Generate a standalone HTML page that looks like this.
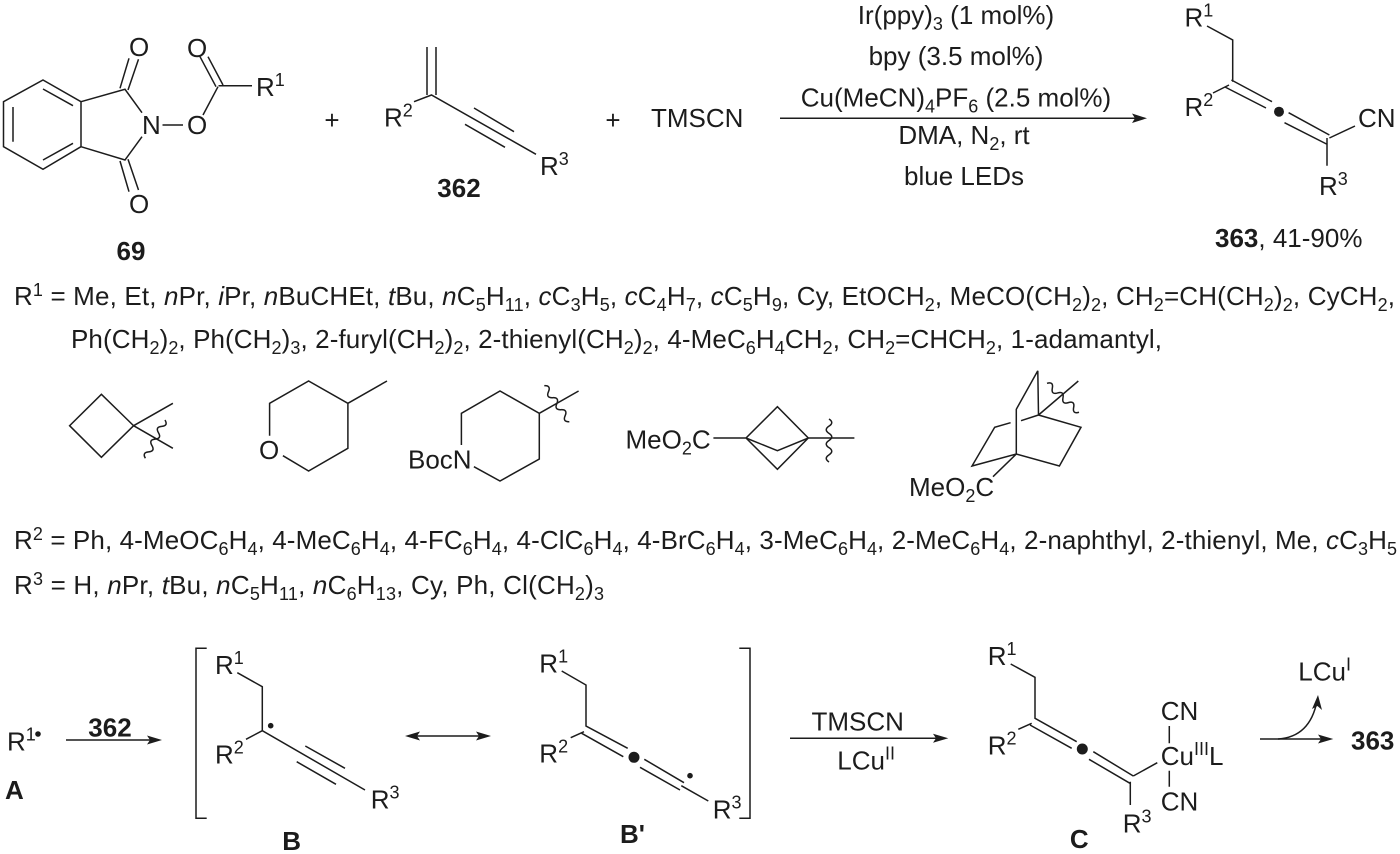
<!DOCTYPE html>
<html><head><meta charset="utf-8">
<style>
html,body{margin:0;padding:0;background:#fff;width:1400px;height:854px;overflow:hidden}
svg{display:block}
text{font-family:"Liberation Sans",sans-serif;font-size:26px;fill:#1c1c1c}
.t{font-size:26px}
.s{font-size:18px}
.b{font-weight:bold}
.i{font-style:italic}
.m{text-anchor:middle}
path,line{fill:none;stroke:#1c1c1c;stroke-width:1.5}
.h{fill:#1c1c1c;stroke:none}
</style></head><body>
<svg xmlns="http://www.w3.org/2000/svg" width="1400" height="854" viewBox="0 0 1400 854">
<!-- 69 -->
<path d="M43 80L81 101.700L81 146.700L43 169.300L3.500 146.700L3.500 101.700ZM43 89L73 105.700M73 143.300L43 160M13 107L13 141.700M81 101.700L125 89.300L142 112.700M81 146.700L125 160L142 136.700M120 88.300L129 58.300M128 90L138.500 59.300M120 161L129 191.700M128 159.300L138.500 190M162.500 125H183M203 115L218 86.700M200 56.700L216 86.700M208 56.700L223 85M218.500 85.700H252"/>
<text x="129" y="56">O</text><text x="129" y="213">O</text><text x="142" y="134">N</text><text x="187" y="134">O</text><text x="187" y="57">O</text>
<text x="256" y="96">R<tspan class="s" dy="-10">1</tspan></text>
<text x="332" y="129" class="m">+</text>
<!-- 362 -->
<path d="M427 47V95M436 47V95M414 101.700L431.500 95L536 154.300M474 108L514 131.700M465 124.300L505 147.300"/>
<text x="384" y="126.700">R<tspan class="s" dy="-10">2</tspan></text>
<text x="540" y="175">R<tspan class="s" dy="-10">3</tspan></text>
<text x="459" y="197" class="b m">362</text><text x="131" y="260" class="b m">69</text>
<text x="613" y="129" class="m">+</text><text x="651" y="127">TMSCN</text>
<!-- conditions -->
<line x1="780" y1="118.300" x2="1140" y2="118.300"/><path class="h" d="M1147 118.300L1132 113.500L1135 118.300L1132 123Z"/>
<text x="956" y="24" class="m t">Ir(ppy)<tspan class="s" dy="6">3</tspan><tspan dy="-6"> (1 mol%)</tspan></text>
<text x="956" y="65" class="m t">bpy (3.5 mol%)</text>
<text x="956" y="106.700" class="m t">Cu(MeCN)<tspan class="s" dy="6">4</tspan><tspan dy="-6">PF</tspan><tspan class="s" dy="6">6</tspan><tspan dy="-6"> (2.5 mol%)</tspan></text>
<text x="964" y="144" class="m t">DMA, N<tspan class="s" dy="6">2</tspan><tspan dy="-6">, rt</tspan></text>
<text x="964" y="185" class="m t">blue LEDs</text>
<!-- 363 -->
<path d="M1207 26L1232.700 40V81.700M1213 93L1229 85M1231.400 80L1272 101.700M1225 87L1266 108M1288.600 112.700L1329.400 135M1284.500 122.700L1326.500 144M1329.400 138L1355 126M1327 138V165.700"/>
<circle class="h" cx="1279" cy="111.700" r="5"/>
<text x="1184.500" y="26.700">R<tspan class="s" dy="-10">1</tspan></text>
<text x="1184.500" y="116">R<tspan class="s" dy="-10">2</tspan></text>
<text x="1358" y="127">CN</text>
<text x="1319" y="195">R<tspan class="s" dy="-10">3</tspan></text>
<text x="1215" y="247"><tspan class="b">363</tspan>, 41-90%</text>
<!-- R lines -->
<text class="t" x="14" y="305" textLength="1381">R<tspan class="s" dy="-9">1</tspan><tspan dy="9"> = Me, Et, </tspan><tspan class="i">n</tspan>Pr, <tspan class="i">i</tspan>Pr, <tspan class="i">n</tspan>BuCHEt, <tspan class="i">t</tspan>Bu, <tspan class="i">n</tspan>C<tspan class="s" dy="6">5</tspan><tspan dy="-6">H</tspan><tspan class="s" dy="6">11</tspan><tspan dy="-6">, </tspan><tspan class="i">c</tspan>C<tspan class="s" dy="6">3</tspan><tspan dy="-6">H</tspan><tspan class="s" dy="6">5</tspan><tspan dy="-6">, </tspan><tspan class="i">c</tspan>C<tspan class="s" dy="6">4</tspan><tspan dy="-6">H</tspan><tspan class="s" dy="6">7</tspan><tspan dy="-6">, </tspan><tspan class="i">c</tspan>C<tspan class="s" dy="6">5</tspan><tspan dy="-6">H</tspan><tspan class="s" dy="6">9</tspan><tspan dy="-6">, Cy, EtOCH</tspan><tspan class="s" dy="6">2</tspan><tspan dy="-6">, MeCO(CH</tspan><tspan class="s" dy="6">2</tspan><tspan dy="-6">)</tspan><tspan class="s" dy="6">2</tspan><tspan dy="-6">, CH</tspan><tspan class="s" dy="6">2</tspan><tspan dy="-6">=CH(CH</tspan><tspan class="s" dy="6">2</tspan><tspan dy="-6">)</tspan><tspan class="s" dy="6">2</tspan><tspan dy="-6">, CyCH</tspan><tspan class="s" dy="6">2</tspan><tspan dy="-6">,</tspan></text>
<text class="t" x="71" y="348" textLength="1091">Ph(CH<tspan class="s" dy="6">2</tspan><tspan dy="-6">)</tspan><tspan class="s" dy="6">2</tspan><tspan dy="-6">, Ph(CH</tspan><tspan class="s" dy="6">2</tspan><tspan dy="-6">)</tspan><tspan class="s" dy="6">3</tspan><tspan dy="-6">, 2-furyl(CH</tspan><tspan class="s" dy="6">2</tspan><tspan dy="-6">)</tspan><tspan class="s" dy="6">2</tspan><tspan dy="-6">, 2-thienyl(CH</tspan><tspan class="s" dy="6">2</tspan><tspan dy="-6">)</tspan><tspan class="s" dy="6">2</tspan><tspan dy="-6">, 4-MeC</tspan><tspan class="s" dy="6">6</tspan><tspan dy="-6">H</tspan><tspan class="s" dy="6">4</tspan><tspan dy="-6">CH</tspan><tspan class="s" dy="6">2</tspan><tspan dy="-6">, CH</tspan><tspan class="s" dy="6">2</tspan><tspan dy="-6">=CHCH</tspan><tspan class="s" dy="6">2</tspan><tspan dy="-6">, 1-adamantyl,</tspan></text>
<text class="t" x="14" y="549" textLength="1383">R<tspan class="s" dy="-9">2</tspan><tspan dy="9"> = Ph, 4-MeOC</tspan><tspan class="s" dy="6">6</tspan><tspan dy="-6">H</tspan><tspan class="s" dy="6">4</tspan><tspan dy="-6">, 4-MeC</tspan><tspan class="s" dy="6">6</tspan><tspan dy="-6">H</tspan><tspan class="s" dy="6">4</tspan><tspan dy="-6">, 4-FC</tspan><tspan class="s" dy="6">6</tspan><tspan dy="-6">H</tspan><tspan class="s" dy="6">4</tspan><tspan dy="-6">, 4-ClC</tspan><tspan class="s" dy="6">6</tspan><tspan dy="-6">H</tspan><tspan class="s" dy="6">4</tspan><tspan dy="-6">, 4-BrC</tspan><tspan class="s" dy="6">6</tspan><tspan dy="-6">H</tspan><tspan class="s" dy="6">4</tspan><tspan dy="-6">, 3-MeC</tspan><tspan class="s" dy="6">6</tspan><tspan dy="-6">H</tspan><tspan class="s" dy="6">4</tspan><tspan dy="-6">, 2-MeC</tspan><tspan class="s" dy="6">6</tspan><tspan dy="-6">H</tspan><tspan class="s" dy="6">4</tspan><tspan dy="-6">, 2-naphthyl, 2-thienyl, Me, </tspan><tspan class="i">c</tspan>C<tspan class="s" dy="6">3</tspan><tspan dy="-6">H</tspan><tspan class="s" dy="6">5</tspan></text>
<text class="t" x="14" y="594" textLength="590">R<tspan class="s" dy="-9">3</tspan><tspan dy="9"> = H, </tspan><tspan class="i">n</tspan>Pr, <tspan class="i">t</tspan>Bu, <tspan class="i">n</tspan>C<tspan class="s" dy="6">5</tspan><tspan dy="-6">H</tspan><tspan class="s" dy="6">11</tspan><tspan dy="-6">, </tspan><tspan class="i">n</tspan>C<tspan class="s" dy="6">6</tspan><tspan dy="-6">H</tspan><tspan class="s" dy="6">13</tspan><tspan dy="-6">, Cy, Ph, Cl(CH</tspan><tspan class="s" dy="6">2</tspan><tspan dy="-6">)</tspan><tspan class="s" dy="6">3</tspan></text>
<!-- substituents -->
<path d="M101.400 394.300L133.600 425.700L101.400 457.300L69.600 425.700ZM133.600 425.700L172.900 403.300M133.600 425.700L172.900 448.300"/>
<path d="M165 420q3.400 5.800 -3.270 6.380t-3.270 6.380t-3.270 6.380t-3.270 6.380t-3.270 6.380t-3.270 6.380" stroke-width="1.300"/>
<path d="M269.600 435.700V403.300L308.600 381L347.900 403.300V448.300L308.600 471L282.900 455.700M347.900 403.300L387 381"/>
<text x="259" y="459">O</text>
<path d="M461.400 445V413.300L500 391L539.300 413.300V459L500 481L473.900 466.700M539.300 413.300L578.600 391"/>
<path d="M544.300 385.700q6.900 -0.300 4.170 6t4.170 6t4.170 6t4.170 6t4.170 6t4.170 6" stroke-width="1.300"/>
<text x="408" y="468.300">BocN</text>
<text x="625.500" y="448.300">MeO<tspan class="s" dy="6">2</tspan><tspan dy="-6">C</tspan></text>
<path d="M713.400 438H746L777.400 406.700L808.300 438L777.400 469.300L746 438L777.400 450.700L808.300 438H854.400"/>
<path d="M829 419q5.500 3.600 0 7.170t0 7.170t0 7.170t0 7.170t0 7.170t0 7.170" stroke-width="1.300"/>
<path d="M1037.800 370.700L1038.500 415L1081 427.300L1059.400 466L1016.300 454L972 466L994.700 427.300L1010.600 422.700M1021 420.700L1038.500 415M1037.800 370.700L1016.300 409.300V454L993 476.700M1038.500 415L1078.300 381"/>
<path d="M1047 383.300q6.700 -2 5.330 4.830t5.330 4.830t5.330 4.830t5.330 4.830t5.330 4.830t5.330 4.830" stroke-width="1.300"/>
<text x="909" y="496">MeO<tspan class="s" dy="6">2</tspan><tspan dy="-6">C</tspan></text>
<!-- A -->
<text x="7" y="750.700">R<tspan class="s" dy="-10">1</tspan></text><circle class="h" cx="38" cy="734" r="2.800"/>
<text x="5" y="799" class="b">A</text>
<line x1="66" y1="740" x2="156" y2="740"/><path class="h" d="M162 740L147 735.500L150 740L147 744.500Z"/>
<text x="110" y="736.700" class="b m">362</text>
<!-- B -->
<path d="M206.700 648.300H196V818.300H206.700"/>
<path d="M237.300 672.700L262.300 686.700V730.700L365 790M246 739.300L262.300 730.700M305.300 746L345 768.300M296.700 761.700L336 784.300"/>
<circle class="h" cx="270.700" cy="725.700" r="2.800"/>
<text x="215" y="674">R<tspan class="s" dy="-10">1</tspan></text>
<text x="215" y="763.300">R<tspan class="s" dy="-10">2</tspan></text>
<text x="370.700" y="808.300">R<tspan class="s" dy="-10">3</tspan></text>
<text x="291.700" y="850" class="b m">B</text>
<line x1="410" y1="736" x2="485" y2="736"/><path class="h" d="M405 736L420 731.500L417 736L420 740.500ZM491 736L476 731.500L479 736L476 740.500Z"/>
<!-- B' -->
<path d="M561.700 671L586 685V726L627.700 748.300M570.700 737.700L584 731.700M581.700 733.300L623.300 756.700M644.300 759.300L684 782.700M640 767.300L680 790M681.300 785.700L708.300 801"/>
<circle class="h" cx="634" cy="757.300" r="5.500"/><circle class="h" cx="690" cy="775.700" r="2.800"/>
<text x="539.300" y="672.700">R<tspan class="s" dy="-10">1</tspan></text>
<text x="539.300" y="762.300">R<tspan class="s" dy="-10">2</tspan></text>
<text x="712.700" y="818.300">R<tspan class="s" dy="-10">3</tspan></text>
<text x="620" y="843" class="b">B'</text>
<path d="M739.300 648.300H750V818.300H739.300"/>
<line x1="790" y1="738.300" x2="942" y2="738.300"/><path class="h" d="M948.300 738.300L933 733.800L936 738.300L933 742.800Z"/>
<text x="857.700" y="730.700" class="m">TMSCN</text>
<text x="837.300" y="769.300">LCu<tspan class="s" dy="-10">II</tspan></text>
<!-- C -->
<path d="M1010.700 664L1035 677.300V718.300L1076.700 741.700M1018.300 729.300L1031.700 723.300M1030 725L1071.700 748.300M1093.300 751.700L1133.300 776M1089 759.300L1130 783.300M1133.300 776L1157.300 762.700M1130.300 781.700V805M1169.300 726V743.300M1169.300 770.700V786.700"/>
<circle class="h" cx="1082.300" cy="749" r="5.500"/>
<text x="987.700" y="665">R<tspan class="s" dy="-10">1</tspan></text>
<text x="987.700" y="754.300">R<tspan class="s" dy="-10">2</tspan></text>
<text x="1122.700" y="832.700">R<tspan class="s" dy="-10">3</tspan></text>
<text x="1160.700" y="720">CN</text>
<text x="1160.700" y="765">Cu<tspan class="s" dy="-10">III</tspan><tspan dy="10">L</tspan></text>
<text x="1160.700" y="810.700">CN</text>
<text x="1079.300" y="848" class="b m">C</text>
<line x1="1260" y1="739" x2="1327" y2="739"/><path class="h" d="M1333.300 739L1318 734.500L1321 739L1318 743.500Z"/>
<path d="M1278 739Q1310 737 1317 701"/><path class="h" d="M1318 695L1312 709L1317.500 706L1322 710Z"/>
<text x="1298.300" y="680.700">LCu<tspan class="s" dy="-10">I</tspan></text>
<text x="1351" y="749.300" class="b">363</text>
</svg>
</body></html>
